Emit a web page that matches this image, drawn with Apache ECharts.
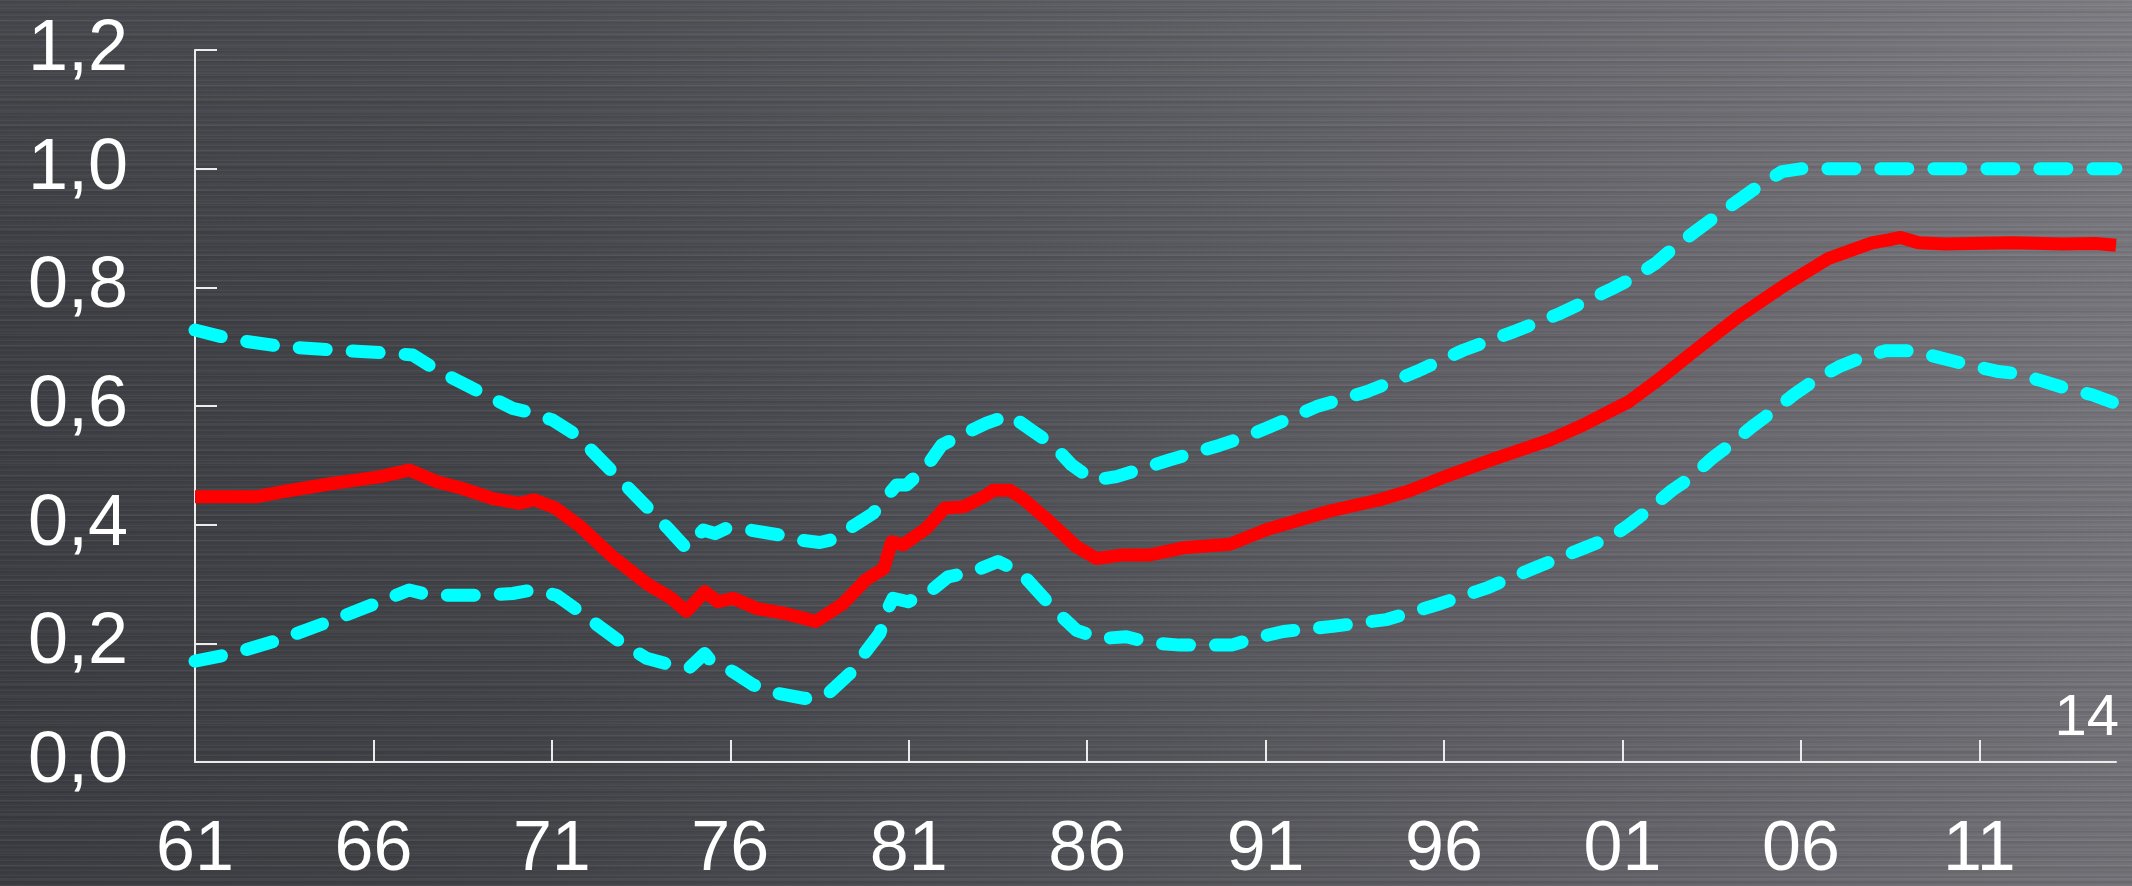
<!DOCTYPE html>
<html>
<head>
<meta charset="utf-8">
<script src="https://cdn.jsdelivr.net/npm/echarts@6/dist/echarts.min.js"></script>
<style>
  html, body { margin: 0; padding: 0; }
  #chart {
    width: 2132px;
    height: 886px;
    /* brushed-metal backdrop: fine horizontal streaks over a dark-to-light sweep */
    background:
      repeating-linear-gradient(180deg, rgba(255,255,255,0.035) 0px, rgba(255,255,255,0.035) 1px, rgba(0,0,0,0.05) 1px, rgba(0,0,0,0.05) 3px, rgba(0,0,0,0) 3px, rgba(0,0,0,0) 5px),
      repeating-linear-gradient(180deg, rgba(0,0,0,0) 0px, rgba(0,0,0,0) 7px, rgba(255,255,255,0.03) 7px, rgba(255,255,255,0.03) 9px, rgba(0,0,0,0.04) 9px, rgba(0,0,0,0.04) 13px),
      linear-gradient(180deg, rgba(255,255,255,0.05) 0%, rgba(255,255,255,0) 35%, rgba(0,0,0,0.04) 100%),
      linear-gradient(90deg, #3e3f44 0%, #45464b 25%, #54555a 50%, #66666c 75%, #77777d 100%);
  }
</style>
</head>
<body>
<div id="chart"></div>
<script>
// x positions of the year labels and their two-digit captions
const tickYears = [1961, 1966, 1971, 1976, 1981, 1986, 1991, 1996, 2001, 2006, 2011];
const tickLabels = ['61', '66', '71', '76', '81', '86', '91', '96', '01', '06', '11'];
const xStart = 1961;
const xEnd = 2014.83;
const endLabel = '14';

// central estimate [year, value]
const centralLine = [
  [1961.0, 0.447], [1962.7, 0.447], [1963.4, 0.455], [1964.8, 0.469], [1966.2, 0.481],
  [1967.0, 0.492], [1967.8, 0.472], [1968.5, 0.461], [1969.35, 0.444], [1970.1, 0.436],
  [1970.5, 0.442], [1971.1, 0.428], [1971.8, 0.397], [1972.7, 0.346], [1973.7, 0.299],
  [1974.3, 0.278], [1974.77, 0.254], [1975.28, 0.287], [1975.66, 0.270], [1976.08, 0.276],
  [1976.73, 0.259], [1977.48, 0.251], [1978.4, 0.237], [1979.16, 0.267], [1979.8, 0.307],
  [1980.3, 0.326], [1980.52, 0.371], [1980.84, 0.366], [1981.5, 0.394], [1982.01, 0.428],
  [1982.53, 0.430], [1983.1, 0.447], [1983.37, 0.458], [1983.83, 0.458], [1984.2, 0.444],
  [1984.95, 0.405], [1985.7, 0.363], [1986.26, 0.343], [1987.0, 0.349], [1987.76, 0.349],
  [1988.69, 0.361], [1990.0, 0.367], [1991.03, 0.392], [1992.8, 0.423], [1994.2, 0.442],
  [1995.04, 0.457], [1996.07, 0.482], [1997.47, 0.512], [1998.97, 0.543], [1999.9, 0.568],
  [2000.71, 0.593], [2001.17, 0.607], [2002.11, 0.649], [2003.04, 0.694], [2004.26, 0.751],
  [2005.56, 0.804], [2006.78, 0.849], [2007.99, 0.875], [2008.46, 0.880], [2008.79, 0.884],
  [2009.3, 0.875], [2010.05, 0.873], [2011.92, 0.875], [2013.32, 0.873], [2014.25, 0.874],
  [2014.83, 0.871]
];

// upper band [year, value]
const upperBand = [
  [1961.0, 0.728], [1962.07, 0.712], [1963.47, 0.700], [1964.96, 0.694], [1966.46, 0.689],
  [1967.1, 0.686], [1967.76, 0.661], [1969.07, 0.621], [1969.9, 0.596], [1970.47, 0.588],
  [1971.03, 0.576], [1971.69, 0.551], [1972.7, 0.489], [1973.74, 0.425], [1974.3, 0.391],
  [1974.77, 0.360], [1975.24, 0.391], [1975.57, 0.385], [1975.89, 0.394], [1976.55, 0.391],
  [1977.34, 0.383], [1977.95, 0.374], [1978.51, 0.370], [1978.8, 0.374], [1979.35, 0.394],
  [1980.0, 0.419], [1980.42, 0.450], [1980.66, 0.467], [1980.94, 0.467], [1981.5, 0.498],
  [1981.92, 0.534], [1982.48, 0.551], [1983.18, 0.571], [1983.83, 0.585], [1984.49, 0.557],
  [1985.05, 0.534], [1985.56, 0.501], [1986.17, 0.475], [1986.82, 0.481], [1987.57, 0.495],
  [1988.3, 0.509], [1989.72, 0.534], [1990.56, 0.551], [1991.12, 0.565], [1992.43, 0.599],
  [1993.83, 0.624], [1995.23, 0.658], [1996.54, 0.694], [1997.94, 0.725], [1999.25, 0.756],
  [2000.65, 0.796], [2001.27, 0.815], [2001.92, 0.840], [2002.48, 0.869], [2003.04, 0.894],
  [2003.6, 0.919], [2004.26, 0.947], [2004.82, 0.971], [2005.47, 0.995], [2006.03, 1.0],
  [2014.83, 1.0]
];

// lower band [year, value]
const lowerBand = [
  [1961.0, 0.170], [1962.07, 0.183], [1963.37, 0.206], [1964.77, 0.237], [1966.18, 0.270],
  [1967.0, 0.290], [1967.58, 0.281], [1968.98, 0.281], [1969.9, 0.284], [1970.47, 0.290],
  [1971.13, 0.281], [1971.78, 0.253], [1972.9, 0.203], [1973.65, 0.175], [1974.3, 0.164],
  [1974.86, 0.159], [1975.28, 0.183], [1975.47, 0.169], [1976.08, 0.152], [1976.64, 0.130],
  [1977.29, 0.116], [1978.09, 0.107], [1978.7, 0.113], [1979.35, 0.149], [1979.72, 0.180],
  [1980.19, 0.217], [1980.42, 0.259], [1980.56, 0.276], [1980.98, 0.270], [1981.59, 0.287],
  [1982.1, 0.312], [1982.8, 0.321], [1983.5, 0.338], [1984.11, 0.321], [1984.67, 0.284],
  [1985.1, 0.256], [1985.7, 0.222], [1986.36, 0.208], [1987.1, 0.211], [1987.76, 0.201],
  [1988.6, 0.197], [1990.05, 0.197], [1990.65, 0.208], [1991.5, 0.220], [1992.94, 0.229],
  [1994.39, 0.240], [1995.8, 0.265], [1997.19, 0.293], [1998.5, 0.326], [1999.9, 0.360],
  [2000.71, 0.380], [2001.17, 0.399], [2001.73, 0.425], [2002.39, 0.458], [2002.95, 0.481],
  [2003.51, 0.512], [2004.07, 0.537], [2004.63, 0.565], [2005.19, 0.590], [2005.84, 0.621],
  [2006.4, 0.644], [2007.06, 0.666], [2007.71, 0.682], [2008.37, 0.693], [2009.11, 0.693],
  [2009.86, 0.682], [2010.51, 0.672], [2011.54, 0.658], [2012.01, 0.655], [2012.66, 0.644],
  [2013.41, 0.630], [2014.16, 0.619], [2014.83, 0.604]
];

const FONT = '"Liberation Sans", Arial, sans-serif';
const AXIS_COLOR = '#ececec';

const chart = echarts.init(document.getElementById('chart'), null, { renderer: 'canvas' });

const bandStyle = {
  color: '#00ffff',
  width: 13,
  type: [27, 26],
  cap: 'round',
  join: 'round'
};

chart.setOption({
  backgroundColor: 'transparent',
  animation: false,
  grid: { left: 195, right: 16, top: 50, bottom: 124, containLabel: false },
  xAxis: {
    type: 'value',
    min: xStart,
    max: xEnd,
    splitLine: { show: false },
    axisLine: { show: true, lineStyle: { color: AXIS_COLOR, width: 2 } },
    axisTick: {
      show: true,
      inside: true,
      length: 22,
      customValues: tickYears.slice(1),
      lineStyle: { color: AXIS_COLOR, width: 2 }
    },
    axisLabel: {
      show: true,
      customValues: tickYears,
      margin: 54,
      color: '#ffffff',
      fontSize: 70,
      fontFamily: FONT,
      formatter: function (v) {
        const i = tickYears.indexOf(Math.round(v));
        return i >= 0 ? tickLabels[i] : '';
      }
    }
  },
  yAxis: {
    type: 'value',
    min: 0,
    max: 1.2,
    interval: 0.2,
    splitLine: { show: false },
    axisLine: { show: true, lineStyle: { color: AXIS_COLOR, width: 2 } },
    axisTick: { show: true, inside: true, length: 22, lineStyle: { color: AXIS_COLOR, width: 2 } },
    axisLabel: {
      margin: 67,
      color: '#ffffff',
      fontSize: 72,
      fontFamily: FONT,
      formatter: function (v) { return v.toFixed(1).replace('.', ','); }
    }
  },
  graphic: [{
    type: 'text',
    right: 13,
    top: 690,
    style: {
      text: endLabel,
      fill: '#ffffff',
      font: '58px ' + FONT
    }
  }],
  series: [
    {
      name: 'upper',
      type: 'line',
      data: upperBand,
      symbol: 'none',
      lineStyle: bandStyle,
      z: 2
    },
    {
      name: 'lower',
      type: 'line',
      data: lowerBand,
      symbol: 'none',
      lineStyle: bandStyle,
      z: 2
    },
    {
      name: 'central',
      type: 'line',
      data: centralLine,
      symbol: 'none',
      lineStyle: { color: '#ff0000', width: 13, join: 'round', cap: 'butt' },
      z: 3
    }
  ]
});
</script>
</body>
</html>
